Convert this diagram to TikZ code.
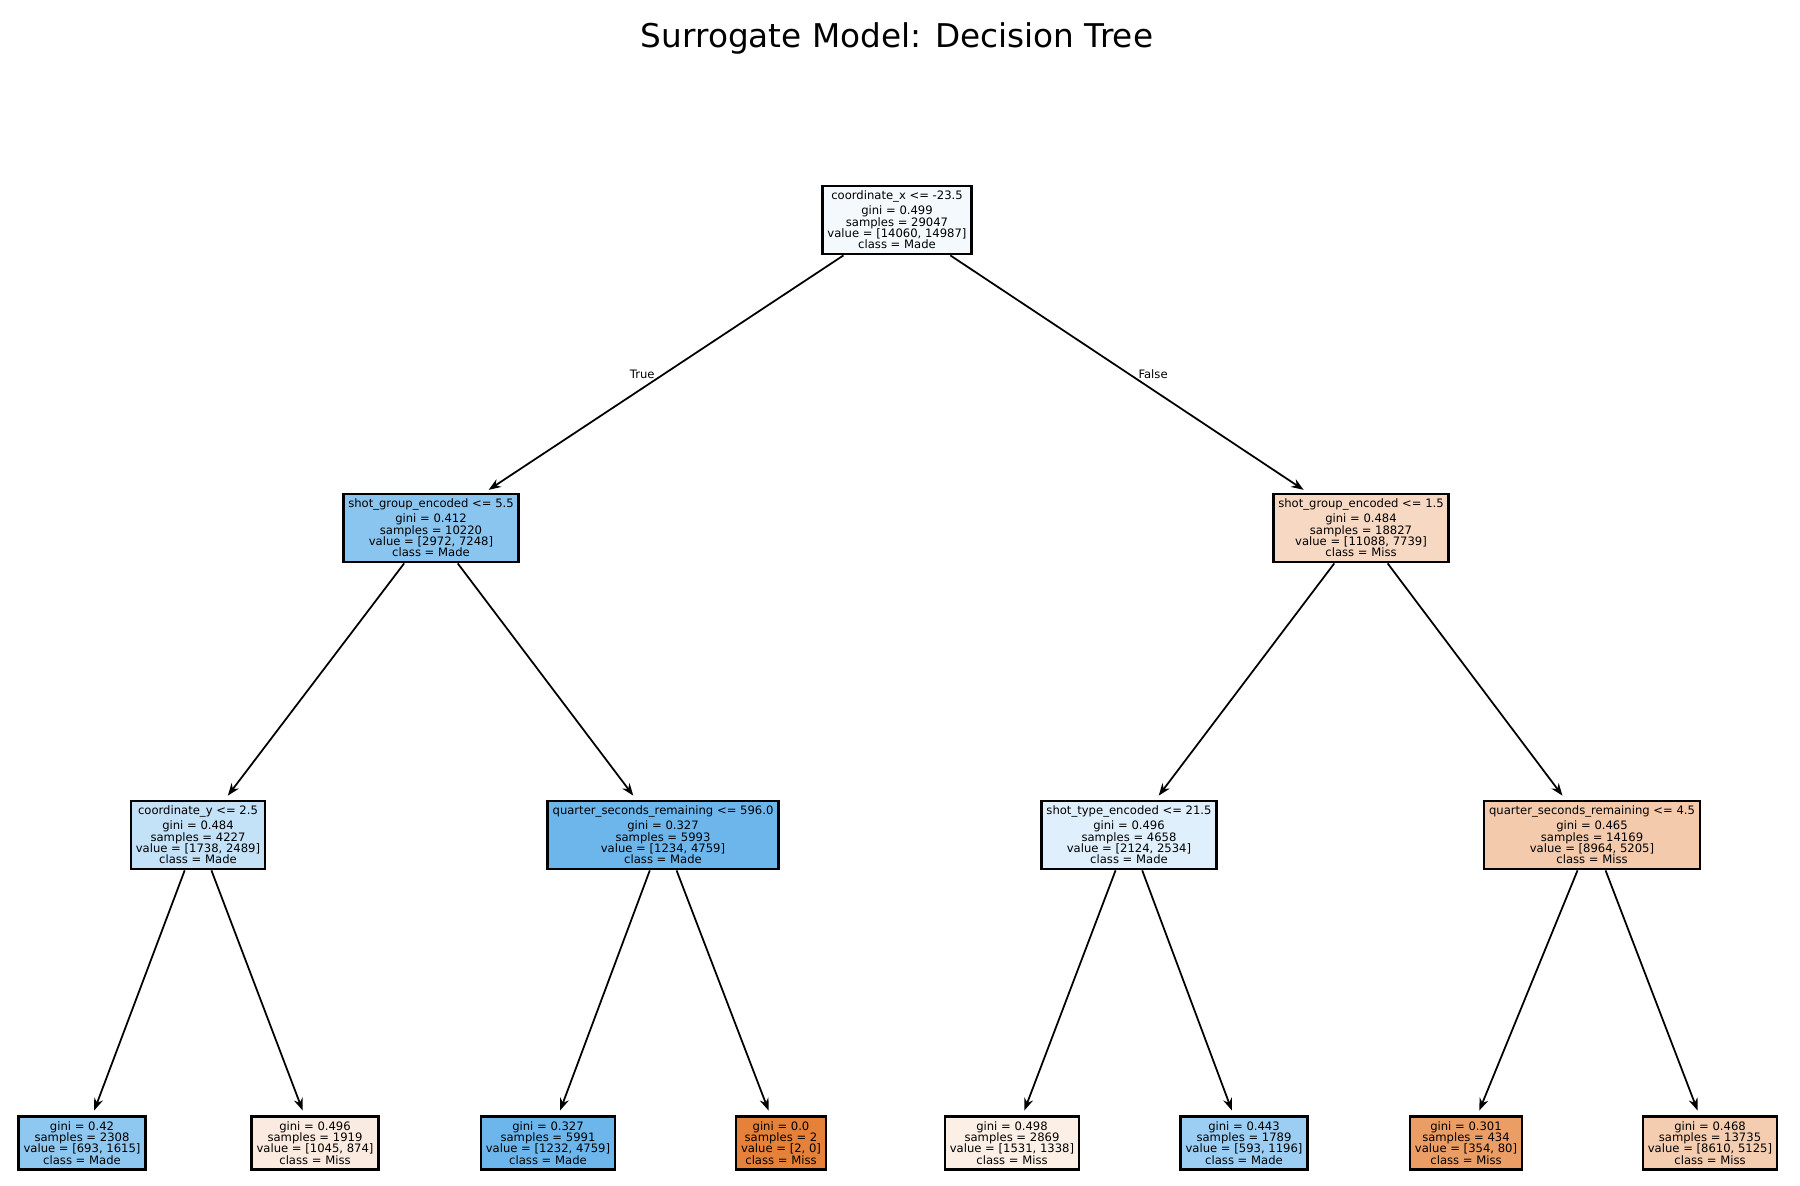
\documentclass[tikz,border=0pt]{standalone}
\usepackage{fontspec}
\setmainfont{DejaVu Sans}
\usetikzlibrary{arrows.meta}

\definecolor{n0col}{RGB}{243,249,253}
\definecolor{n1col}{RGB}{138,197,240}
\definecolor{n2col}{RGB}{195,225,247}
\definecolor{n3col}{RGB}{142,199,240}
\definecolor{n4col}{RGB}{251,234,223}
\definecolor{n5col}{RGB}{108,182,236}
\definecolor{n6col}{RGB}{108,182,236}
\definecolor{n7col}{RGB}{229,129,57}
\definecolor{n8col}{RGB}{247,217,195}
\definecolor{n9col}{RGB}{223,239,251}
\definecolor{n10col}{RGB}{252,239,230}
\definecolor{n11col}{RGB}{155,206,242}
\definecolor{n12col}{RGB}{244,202,172}
\definecolor{n13col}{RGB}{235,157,102}
\definecolor{n14col}{RGB}{244,204,175}

\begin{document}
\begin{tikzpicture}[
x=0.01cm,
y=-0.01cm,
rect/.style={
draw,
line width=0.7pt,
align=center,
inner xsep=1.4pt,
inner ysep=1.5pt,
font=\fontsize{3.3}{3.2}\selectfont,
},
myedge/.style={
-{Stealth[length=3.5pt,width=2.6pt]},
line width=0.5pt,
shorten >=1.4pt,
},
lbl/.style={
font=\fontsize{3.3}{3.2}\selectfont,
inner sep=0pt,
},
]
\useasboundingbox (0,0) rectangle (1800,1186);

\node[font=\fontsize{9.3}{11}\selectfont] at (897,38) (title) {Surrogate Model: Decision Tree};

% depth 0 and 1
\node[rect, fill=n0col] at (897,220) (0) {coordinate\_x <= -23.5\\gini = 0.499\\samples = 29047\\value = [14060, 14987]\\class = Made};
\node[rect, fill=n1col] at (431,528) (1) {shot\_group\_encoded <= 5.5\\gini = 0.412\\samples = 10220\\value = [2972, 7248]\\class = Made};
\node[rect, fill=n8col] at (1361,528) (8) {shot\_group\_encoded <= 1.5\\gini = 0.484\\samples = 18827\\value = [11088, 7739]\\class = Miss};

% depth 2
\node[rect, fill=n2col] at (198,835) (2) {coordinate\_y <= 2.5\\gini = 0.484\\samples = 4227\\value = [1738, 2489]\\class = Made};
\node[rect, fill=n5col] at (663,835) (5) {quarter\_seconds\_remaining <= 596.0\\gini = 0.327\\samples = 5993\\value = [1234, 4759]\\class = Made};
\node[rect, fill=n9col] at (1129,835) (9) {shot\_type\_encoded <= 21.5\\gini = 0.496\\samples = 4658\\value = [2124, 2534]\\class = Made};
\node[rect, fill=n12col] at (1592,835) (12) {quarter\_seconds\_remaining <= 4.5\\gini = 0.465\\samples = 14169\\value = [8964, 5205]\\class = Miss};

% leaves
\node[rect, fill=n3col] at (82,1143) (3) {gini = 0.42\\samples = 2308\\value = [693, 1615]\\class = Made};
\node[rect, fill=n4col] at (315,1143) (4) {gini = 0.496\\samples = 1919\\value = [1045, 874]\\class = Miss};
\node[rect, fill=n6col] at (548,1143) (6) {gini = 0.327\\samples = 5991\\value = [1232, 4759]\\class = Made};
\node[rect, fill=n7col] at (781,1143) (7) {gini = 0.0\\samples = 2\\value = [2, 0]\\class = Miss};
\node[rect, fill=n10col] at (1012,1143) (10) {gini = 0.498\\samples = 2869\\value = [1531, 1338]\\class = Miss};
\node[rect, fill=n11col] at (1244,1143) (11) {gini = 0.443\\samples = 1789\\value = [593, 1196]\\class = Made};
\node[rect, fill=n13col] at (1466,1143) (13) {gini = 0.301\\samples = 434\\value = [354, 80]\\class = Miss};
\node[rect, fill=n14col] at (1710,1143) (14) {gini = 0.468\\samples = 13735\\value = [8610, 5125]\\class = Miss};

\path (0) edge [myedge] (1);
\path (0) edge [myedge] (8);
\path (1) edge [myedge] (2);
\path (1) edge [myedge] (5);
\path (8) edge [myedge] (9);
\path (8) edge [myedge] (12);
\path (2) edge [myedge] (3);
\path (2) edge [myedge] (4);
\path (5) edge [myedge] (6);
\path (5) edge [myedge] (7);
\path (9) edge [myedge] (10);
\path (9) edge [myedge] (11);
\path (12) edge [myedge] (13);
\path (12) edge [myedge] (14);

\path (0.center) -- (1.center) node[lbl, midway, anchor=east, xshift=-2.5pt] (true) {True};
\path (0.center) -- (8.center) node[lbl, midway, anchor=west, xshift=2.5pt] (false) {False};

\end{tikzpicture}
\end{document}
